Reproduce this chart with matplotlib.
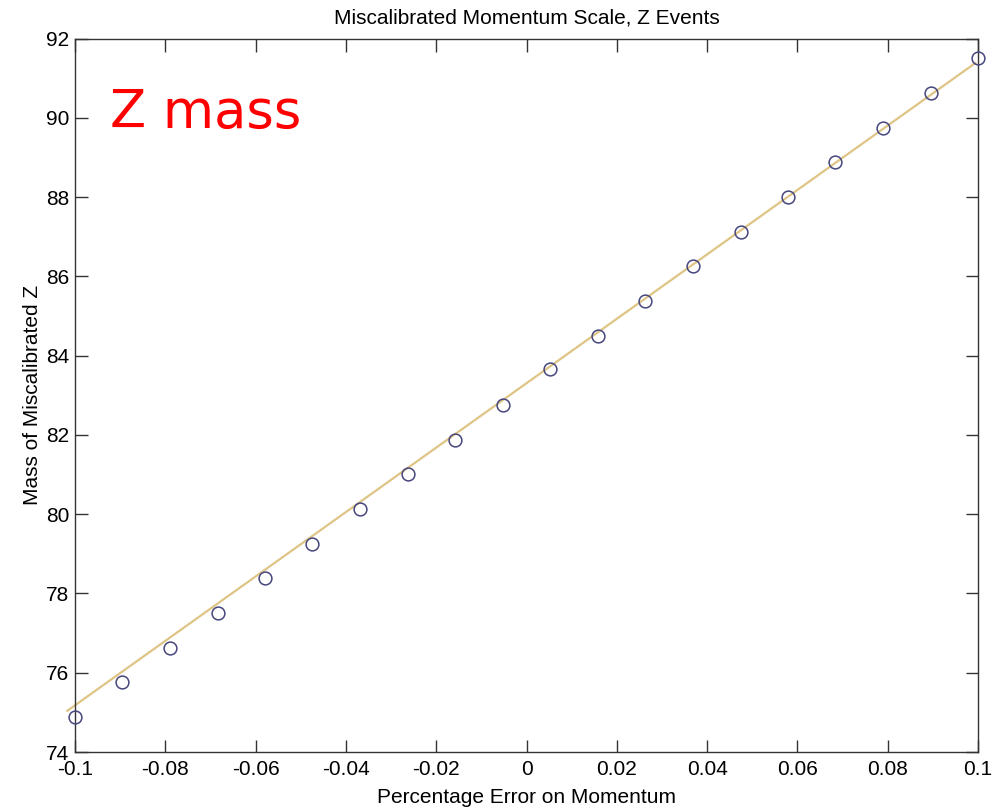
import numpy as np
import matplotlib
matplotlib.use("Agg")
import matplotlib.pyplot as plt

# Data
error_x = [-0.1, -0.0895, -0.0789, -0.0684, -0.0579, -0.0474, -0.0368, -0.0263,
           -0.0158, -0.0053, 0.0053, 0.0158, 0.0263, 0.0368, 0.0474, 0.0579,
           0.0684, 0.0789, 0.0895, 0.1]
mass_y = [74.88, 75.77, 76.62, 77.51, 78.40, 79.25, 80.13, 81.02, 81.87, 82.76,
          83.65, 84.50, 85.39, 86.26, 87.12, 88.01, 88.89, 89.75, 90.63, 91.50]
line_x = [-0.1017, 0.0994]
line_y = [75.04, 91.38]
xticks = [-0.1, -0.08, -0.06, -0.04, -0.02, 0, 0.02, 0.04, 0.06, 0.08, 0.1]
xtick_labels = ["-0.1", "-0.08", "-0.06", "-0.04", "-0.02", "0", "0.02", "0.04", "0.06", "0.08", "0.1"]
yticks = [74, 76, 78, 80, 82, 84, 86, 88, 90, 92]

plt.rcParams['font.family'] = ['Liberation Sans', 'DejaVu Sans']

fig = plt.figure(figsize=(9.93, 8.09), dpi=100)
ax = fig.add_axes([75/993, 1-752/809, (978-75)/993, (752-38.5)/809])

ax.plot(line_x, line_y, color='#dec585', lw=1.6, clip_on=False, zorder=2)
ax.plot(error_x, mass_y, linestyle='none', marker='o', markersize=9.2,
        markerfacecolor='none', markeredgecolor='#46467e', markeredgewidth=1.1,
        clip_on=False, zorder=3)

ax.set_xlim(-0.1, 0.1)
ax.set_ylim(74, 92)
ax.set_xticks(xticks)
ax.set_xticklabels(xtick_labels)
ax.set_yticks(yticks)
ax.tick_params(direction='in', length=9, width=1, colors='#333333',
               labelcolor='black', labelsize=15, top=True, right=True)
ax.tick_params(axis='x', pad=6)
ax.tick_params(axis='y', pad=4)
for s in ax.spines.values():
    s.set_color('#333333')
    s.set_linewidth(1)

ax.set_title('Miscalibrated Momentum Scale, Z Events', fontsize=15, pad=11)
ax.set_xlabel('Percentage Error on Momentum', fontsize=15, labelpad=6)
ax.set_ylabel('Mass of Miscalibrated Z', fontsize=15, labelpad=3)

fig.text(110/993, 1-127.7/809, 'Z mass', color='red', fontsize=38,
         family='DejaVu Sans', va='baseline', ha='left')

fig.savefig('out.png', dpi=100)
